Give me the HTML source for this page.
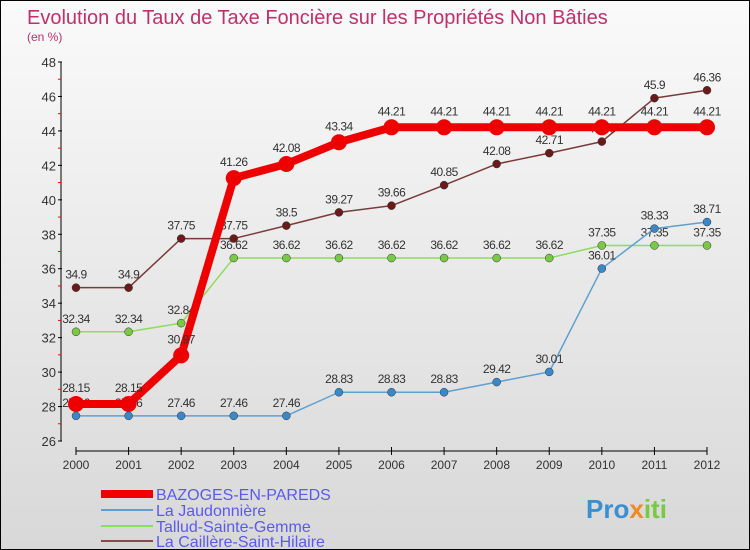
<!DOCTYPE html>
<html><head><meta charset="utf-8"><style>
body{margin:0;background:#fff}
#c{width:748px;height:548px;border:1px solid #000;position:relative;background:linear-gradient(#fafafa,#d8d8d8);font-family:"Liberation Sans",sans-serif;overflow:hidden}
</style></head><body>
<div id="c">
<svg id="s" width="748" height="548" xmlns="http://www.w3.org/2000/svg">
<text x="26" y="23" font-size="20" fill="#c0306a">Evolution du Taux de Taxe Foncière sur les Propriétés Non Bâties</text>
<text x="26" y="40" font-size="12" fill="#c0306a">(en %)</text>
<g id="axes"></g><g id="series"></g><g id="legend"></g>
<text x="585" y="517" font-size="26" font-weight="bold" fill="#3a8fd0">Pro<tspan fill="#f08a20">x</tspan><tspan fill="#7ac943">iti</tspan></text>
</svg>
</div>
<script>
const years=[2000,2001,2002,2003,2004,2005,2006,2007,2008,2009,2010,2011,2012];
const yTicks=[26,28,30,32,34,36,38,40,42,44,46,48];
const seriesNames=["BAZOGES-EN-PAREDS","La Jaudonnière","Tallud-Sainte-Gemme","La Caillère-Saint-Hilaire"];
const bazoges=[28.15,28.15,30.97,41.26,42.08,43.34,44.21,44.21,44.21,44.21,44.21,44.21,44.21];
const jaudonniere=[27.46,27.46,27.46,27.46,27.46,28.83,28.83,28.83,29.42,30.01,36.01,38.33,38.71];
const tallud=[32.34,32.34,32.84,36.62,36.62,36.62,36.62,36.62,36.62,36.62,37.35,37.35,37.35];
const cailliere=[34.9,34.9,37.75,37.75,38.5,39.27,39.66,40.85,42.08,42.71,43.38,45.9,46.36];
const NS="http://www.w3.org/2000/svg";
const X=i=>75+i*(706-75)/(years.length-1);
const Y=v=>440-(v-26)*(440-61)/22;
function mk(p,t,a){const e=document.createElementNS(NS,t);for(const k in a)e.setAttribute(k,a[k]);p.appendChild(e);return e;}
const ax=document.getElementById('axes');
let yl=mk(ax,'line',{x1:60,y1:Y(48),x2:60,y2:Y(26),stroke:'#000'});


let xl=mk(ax,'line',{x1:X(0),y1:450,x2:X(12),y2:450,stroke:'#000'});


yTicks.forEach(v=>{
 mk(ax,'line',{x1:57,x2:61,y1:Y(v),y2:Y(v),stroke:'#000'});
 if(v<48) mk(ax,'line',{x1:57,x2:60,y1:Y(v+1),y2:Y(v+1),stroke:'#f00'});
 const t=mk(ax,'text',{x:55,y:Y(v)+5,'font-size':13,'text-anchor':'end',fill:'#333'});
 t.textContent=v;
 
 
});
years.forEach((yr,i)=>{
 mk(ax,'line',{x1:X(i),x2:X(i),y1:446,y2:454,stroke:'#000'});
 const t=mk(ax,'text',{x:X(i),y:468,'font-size':12,'text-anchor':'middle',fill:'#333'});
 t.textContent=yr;
 
 
});
const sg=document.getElementById('series');
const defs=[[cailliere,'#7a3a3a','#6b1a1a',1.5,4],[tallud,'#8ddc5a','#7ac943',1.5,4],[jaudonniere,'#5fa0cf','#3a88c8',1.5,4],[bazoges,'#ee0000','#ee0000',8,8]];
const names=['series-la-cailliere','series-tallud','series-la-jaudonniere','series-bazoges'];
defs.forEach((d,k)=>{
 const [vals,lc,mc,w,r]=d;
 const g=mk(sg,'g',{});
 
 
 const pl=mk(g,'polyline',{points:vals.map((v,i)=>X(i)+','+Y(v)).join(' '),fill:'none',stroke:lc,'stroke-width':w,'stroke-linejoin':'round'});
 vals.forEach((v,i)=>{
  const c=mk(g,'circle',{cx:X(i),cy:Y(v),r:r,fill:mc,stroke:r>5?'none':'#333','stroke-width':0.5});
  
  
  const t=mk(g,'text',{x:X(i),y:Y(v)-(r>5?12:9),'font-size':12,'text-anchor':'middle',fill:'#333','letter-spacing':'-0.5'});
  t.textContent=String(v).replace('.','.');
  
  
 });
});
const lg=document.getElementById('legend');
const lcol=['#ee0000','#5fa0cf','#8ddc5a','#8a4a4a'],lw=[8,2,2,2],ly=[493,509,525,540];
seriesNames.forEach((n,i)=>{
 const g=mk(lg,'g',{});
 
 
 mk(g,'line',{x1:100,x2:152,y1:ly[i],y2:ly[i],stroke:lcol[i],'stroke-width':lw[i]});
 const t=mk(g,'text',{x:155,y:ly[i]+6,'font-size':16,fill:'#5a5aee'});
 t.textContent=n;
});
</script>
</body></html>
